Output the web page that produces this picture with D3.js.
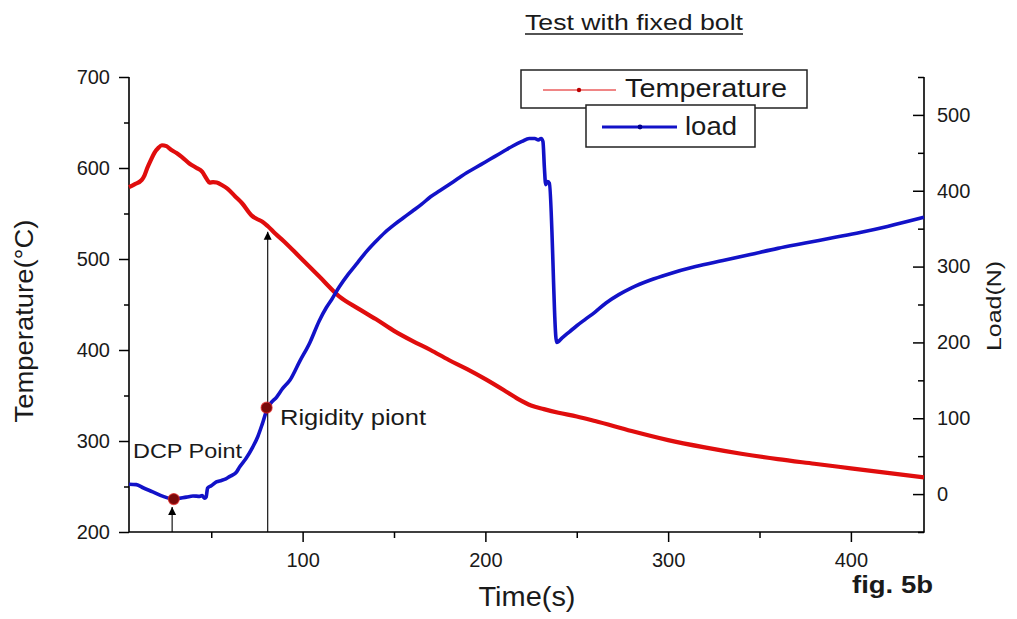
<!DOCTYPE html>
<html>
<head>
<meta charset="utf-8">
<script src="https://cdn.jsdelivr.net/npm/d3@7/dist/d3.min.js"></script>
<style>
  html, body { margin: 0; padding: 0; background: #fff; }
  svg { display: block; }
  text { font-family: "Liberation Sans", Arial, Helvetica, sans-serif; fill: #1a1a1a; }
</style>
</head>
<body>
<svg id="chart" width="1017" height="619"></svg>
<script>
// ---------------- data ----------------
const tempTime = [5, 8, 12, 13.5, 15, 17, 19, 21, 23, 25.5, 28, 31, 34, 38, 42, 45, 47.5, 49, 51, 53, 56, 59, 63, 67, 72, 75, 78, 81, 85, 90, 98, 109, 120, 130, 140, 150, 160, 170, 180, 190, 200, 210, 218, 225, 232, 240, 250, 260, 280, 300, 320, 340, 360, 380, 400, 420, 440];
const tempValues = [579, 582, 587, 592, 600, 609, 617, 622, 625, 624, 620, 616.5, 612, 605, 600, 596, 588, 584, 584.5, 584, 581, 577, 569, 561, 548, 544, 541, 536, 528, 519, 503, 481, 459, 446, 434, 421, 410, 400, 389, 379, 368, 356, 346, 339, 335, 331, 327, 322, 311, 301, 293, 286, 280, 275, 270, 265, 260];

const loadTime = [5, 9, 13, 18, 23.7, 29.5, 36.4, 40, 43.7, 45, 46.4, 47.2, 48, 50, 52.8, 55.6, 58, 60, 63.8, 65.6, 69, 72.7, 75.5, 78, 80.3, 82, 85.8, 89, 93, 98.4, 104, 109, 113, 116, 120, 125, 130, 135, 140, 145, 150, 155, 160, 165, 170, 175, 180, 185, 190, 195, 200, 205, 210, 215, 220, 224, 227, 229, 230.5, 231.5, 232.3, 233, 234, 235, 239, 242, 246, 250, 255, 260, 266, 273, 280, 290, 300, 315, 330, 345, 360, 375, 390, 405, 420, 440];
const loadValues = [13, 12.5, 8, 3, -3, -6.5, -4, -2.5, -3, -2, -5.5, -4, 8, 11, 16, 18, 20, 23, 29, 36, 47, 62, 76, 93, 110, 118, 128, 139, 150, 175, 200, 228, 246, 257, 273, 290, 305, 320, 333, 345, 355, 364, 373, 382, 392, 400, 408, 416, 424, 431, 438, 445, 452, 459, 465, 469, 469, 467, 469, 465, 430, 408, 412, 410, 200, 206, 214, 222, 231, 240, 252, 263, 272, 282, 290, 300, 308, 316, 324, 331, 338, 345, 353, 365];

const xTicks = [100, 200, 300, 400];
const xMinorTicks = [50, 150, 250, 350];
const tempTicks = [200, 300, 400, 500, 600, 700];
const tempMinorTicks = [250, 350, 450, 550, 650];
const loadTicks = [0, 100, 200, 300, 400, 500];
const loadMinorTicks = [-50, 50, 150, 250, 350, 450, 550];

// annotation points
const dcpPoint = { t: 29.5, load: -6.6, arrowTip: -17, arrowT: 28.6 };
const rigidPoint = { t: 80.3, load: 114, arrowTip: 530, arrowT: 80.9 };

// ---------------- layout ----------------
const L = 129, R = 924, T = 77, B = 532;
const svg = d3.select("#chart");

const x = d3.scaleLinear().domain([5, 440]).range([L, R]);
const yT = d3.scaleLinear().domain([200, 700]).range([B, T]);
const yL = d3.scaleLinear().domain([-50, 550]).range([B, T]);

const red = "#e00d0d", blue = "#1212c8";

// defs
const defs = svg.append("defs");
defs.append("marker").attr("id", "arrow")
  .attr("markerUnits", "userSpaceOnUse")
  .attr("viewBox", "0 0 10 10").attr("refX", 10).attr("refY", 5)
  .attr("markerWidth", 8).attr("markerHeight", 12).attr("orient", "auto")
  .append("path").attr("d", "M0,0 L10,5 L0,10 z").attr("fill", "#000");

// ---------------- axes ----------------
function styleAxis(g) {
  g.select(".domain").remove();
  g.selectAll(".tick line").attr("stroke", "#000").attr("stroke-width", 1.5);
  g.selectAll(".tick text").style("font-size", "20px").attr("fill", "#1a1a1a");
}

svg.append("g").attr("transform", `translate(${L},0)`)
  .call(d3.axisLeft(yT).tickValues(tempTicks).tickSize(10).tickPadding(9).tickFormat(d3.format("d")))
  .call(styleAxis);
svg.append("g").attr("transform", `translate(${L},0)`)
  .call(d3.axisLeft(yT).tickValues(tempMinorTicks).tickSize(5).tickFormat(""))
  .call(styleAxis);

svg.append("g").attr("transform", `translate(0,${B})`)
  .call(d3.axisBottom(x).tickValues(xTicks).tickSize(10).tickPadding(11).tickFormat(d3.format("d")))
  .call(styleAxis);
svg.append("g").attr("transform", `translate(0,${B})`)
  .call(d3.axisBottom(x).tickValues(xMinorTicks).tickSize(6).tickFormat(""))
  .call(styleAxis);

svg.append("g").attr("transform", `translate(${R},0)`)
  .call(d3.axisRight(yL).tickValues(loadTicks).tickSize(-11).tickPadding(13).tickFormat(d3.format("d")))
  .call(styleAxis);
svg.append("g").attr("transform", `translate(${R},0)`)
  .call(d3.axisRight(yL).tickValues(loadMinorTicks).tickSize(-6).tickFormat(""))
  .call(styleAxis);

// axis lines
svg.append("path").attr("d", `M${L},${T}V${B}H${R}V${T}`)
  .attr("fill", "none").attr("stroke", "#000").attr("stroke-width", 1.6);

// ---------------- series ----------------
const tempData = tempTime.map((t, i) => [t, tempValues[i]]);
const loadData = loadTime.map((t, i) => [t, loadValues[i]]);

svg.append("path").datum(tempData)
  .attr("fill", "none").attr("stroke", red).attr("stroke-width", 4.2)
  .attr("stroke-linejoin", "round")
  .attr("d", d3.line().x(d => x(d[0])).y(d => yT(d[1])).curve(d3.curveMonotoneX));

svg.append("path").datum(loadData)
  .attr("fill", "none").attr("stroke", blue).attr("stroke-width", 3.6)
  .attr("stroke-linejoin", "round")
  .attr("d", d3.line().x(d => x(d[0])).y(d => yL(d[1])).curve(d3.curveMonotoneX));

// ---------------- annotations ----------------
svg.append("line")
  .attr("x1", x(rigidPoint.arrowT)).attr("x2", x(rigidPoint.arrowT))
  .attr("y1", B).attr("y2", yT(rigidPoint.arrowTip))
  .attr("stroke", "#000").attr("stroke-width", 1.1).attr("marker-end", "url(#arrow)");
svg.append("line")
  .attr("x1", x(dcpPoint.arrowT)).attr("x2", x(dcpPoint.arrowT))
  .attr("y1", B).attr("y2", yL(dcpPoint.arrowTip))
  .attr("stroke", "#000").attr("stroke-width", 1.1).attr("marker-end", "url(#arrow)");

[dcpPoint, rigidPoint].forEach(p => {
  svg.append("circle").attr("cx", x(p.t)).attr("cy", yL(p.load)).attr("r", 5.5)
    .attr("fill", "#7a0a0a").attr("stroke", "#e02020").attr("stroke-width", 1.2).attr("stroke-opacity", 0.7);
});

svg.append("text").attr("x", 133).attr("y", 458).style("font-size", "21px")
  .attr("textLength", 109).attr("lengthAdjust", "spacingAndGlyphs").text("DCP Point");
svg.append("text").attr("x", 280).attr("y", 425).style("font-size", "22px")
  .attr("textLength", 146).attr("lengthAdjust", "spacingAndGlyphs").text("Rigidity piont");

// ---------------- titles ----------------
svg.append("text").attr("x", 525).attr("y", 30).style("font-size", "22px")
  .attr("textLength", 218).attr("lengthAdjust", "spacingAndGlyphs").text("Test with fixed bolt");
svg.append("line").attr("x1", 525).attr("x2", 743).attr("y1", 34).attr("y2", 34)
  .attr("stroke", "#1a1a1a").attr("stroke-width", 1.3);

svg.append("text").attr("x", 527).attr("y", 606).attr("text-anchor", "middle")
  .style("font-size", "27px").attr("textLength", 97).attr("lengthAdjust", "spacingAndGlyphs").text("Time(s)");

svg.append("text").attr("transform", "translate(33,321) rotate(-90)").attr("text-anchor", "middle")
  .style("font-size", "25px").attr("textLength", 203).attr("lengthAdjust", "spacingAndGlyphs").text("Temperature(°C)");

svg.append("text").attr("transform", "translate(1001,306) rotate(-90)").attr("text-anchor", "middle")
  .style("font-size", "21px").attr("textLength", 90).attr("lengthAdjust", "spacingAndGlyphs").text("Load(N)");

svg.append("text").attr("x", 852).attr("y", 593).style("font-size", "24px").style("font-weight", "bold")
  .attr("textLength", 81).attr("lengthAdjust", "spacingAndGlyphs").text("fig. 5b");

// ---------------- legend ----------------
svg.append("rect").attr("x", 521).attr("y", 70).attr("width", 286).attr("height", 38)
  .attr("fill", "#fff").attr("stroke", "#222").attr("stroke-width", 1.5);
svg.append("line").attr("x1", 543).attr("x2", 616).attr("y1", 90).attr("y2", 90)
  .attr("stroke", red).attr("stroke-width", 1);
svg.append("circle").attr("cx", 579).attr("cy", 90).attr("r", 2.2).attr("fill", "#b00");

svg.append("rect").attr("x", 586).attr("y", 105).attr("width", 169).attr("height", 42)
  .attr("fill", "#fff").attr("stroke", "#222").attr("stroke-width", 1.5);
svg.append("line").attr("x1", 602).attr("x2", 677).attr("y1", 127).attr("y2", 127)
  .attr("stroke", blue).attr("stroke-width", 3);
svg.append("circle").attr("cx", 640).attr("cy", 127).attr("r", 2.4).attr("fill", "#00008b");

svg.append("text").attr("x", 625).attr("y", 97).style("font-size", "26px")
  .attr("textLength", 162).attr("lengthAdjust", "spacingAndGlyphs").text("Temperature");
svg.append("text").attr("x", 685).attr("y", 135).style("font-size", "26px")
  .attr("textLength", 52).attr("lengthAdjust", "spacingAndGlyphs").text("load");
</script>
</body>
</html>
